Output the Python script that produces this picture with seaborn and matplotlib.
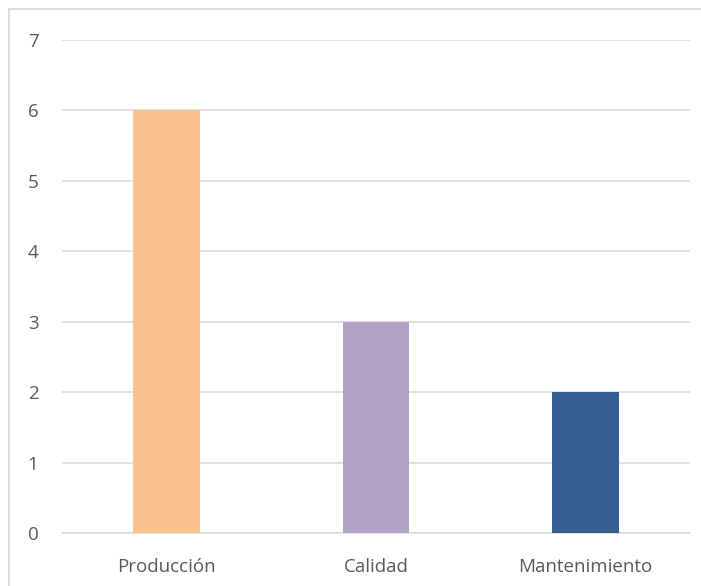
import matplotlib
matplotlib.use("Agg")
import matplotlib.pyplot as plt
import seaborn as sns
import pandas as pd
from matplotlib.patches import Rectangle

# data
categories = ["Producción", "Calidad", "Mantenimiento"]
values = [6, 3, 2]
bar_colors = ["#F9C28F", "#B3A2C8", "#355F91"]

df = pd.DataFrame({"area": categories, "n": values})

sns.set_theme(style="white")
plt.rcParams["font.family"] = ["Open Sans", "DejaVu Sans"]

fig = plt.figure(figsize=(7.01, 5.86), dpi=100)
ax = fig.add_axes([62 / 701, 53 / 586, 628 / 701, 493 / 586])

sns.barplot(data=df, x="area", y="n", hue="area", palette=bar_colors,
            width=0.32, legend=False, ax=ax, zorder=3, saturation=1,
            linewidth=0, edgecolor="none")

ax.set_ylim(0, 7)
ax.set_yticks(range(0, 8))
ax.yaxis.grid(True, color="#D9D9D9", linewidth=1.1, zorder=0)
ax.set_axisbelow(True)
for s in ["top", "right", "left"]:
    ax.spines[s].set_visible(False)
ax.spines["bottom"].set_color("#D9D9D9")
ax.spines["bottom"].set_linewidth(1.1)
ax.set_xlabel("")
ax.set_ylabel("")
ax.tick_params(axis="both", length=0, labelsize=13.5, colors="#595959")
ax.tick_params(axis="x", pad=18)
ax.tick_params(axis="y", pad=17)

# chart border (cut off at right/bottom)
fig.patches.append(Rectangle((9 / 701, -0.1), 1.2, (586 - 9) / 586 + 0.1,
                             transform=fig.transFigure, fill=False,
                             edgecolor="#D9D9D9", linewidth=1.3))

fig.savefig("out.png", dpi=100)
